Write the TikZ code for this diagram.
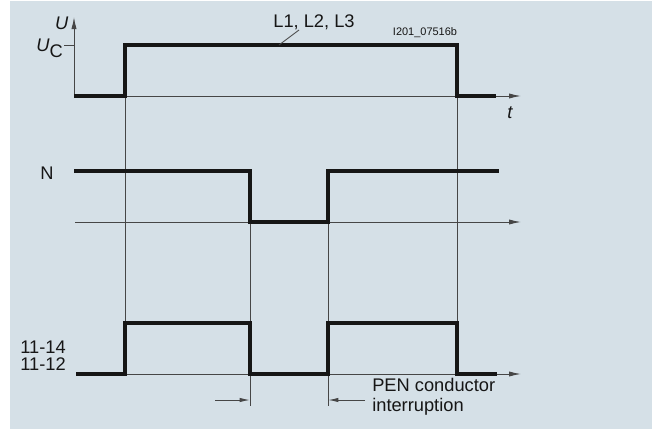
\documentclass[tikz,border=0pt]{standalone}
\usepackage{fontspec}
\setmainfont{Liberation Sans}
\usetikzlibrary{arrows.meta}
\definecolor{panelbg}{RGB}{213,224,231}
\definecolor{signal}{RGB}{22,22,22}
\definecolor{guide}{RGB}{70,70,70}

\begin{document}
\begin{tikzpicture}[x=1cm,y=1cm,line join=miter,>={Latex[length=3mm,width=1.3mm]}]
\tikzset{lab/.style={font=\fontsize{13}{14.5}\selectfont,text=signal,inner sep=0pt},
  tinylab/.style={font=\fontsize{7.8}{9}\selectfont,text=signal,inner sep=0pt},
  sig/.style={signal,line width=2.2pt},
  axis/.style={guide,line width=0.7pt},
  guideline/.style={guide,line width=0.6pt},
  dimarrow/.style={guide,line width=0.7pt,-{Latex[length=2.6mm,width=1.1mm]}}}

\fill[white] (0,0) rectangle (16.3,10.725);
\fill[panelbg] (0.25,0) rectangle (16.3,10.7);

% guide lines
\draw[guideline] (3.125,9.6)--(3.125,1.375);
\draw[guideline] (11.425,9.6)--(11.425,1.375);
\draw[guideline] (6.25,6.45)--(6.25,0.575);
\draw[guideline] (8.2,6.45)--(8.2,0.575);

% L1, L2, L3
\draw[axis,->] (1.85,8.325)--(1.85,10.3);
\draw[axis,->] (1.85,8.325)--(13.025,8.325);
\draw[axis] (1.6,9.6)--(1.85,9.6);
\node[lab,font=\fontsize{13}{14.5}\selectfont\itshape] (uaxis) at (1.54,10.15) {U};
\node[lab,anchor=east] (uc) at (1.58,9.52) {\textit{U}\raisebox{-0.55ex}{C}};
\node[lab,font=\fontsize{13}{14.5}\selectfont\itshape] (taxis) at (12.75,7.9) {t};
\draw[sig] (1.85,8.325)--(3.125,8.325)--(3.125,9.6)--(11.425,9.6)--(11.425,8.325)--(12.4,8.325);
\node[lab] (lines) at (7.85,10.175) {L1, L2, L3};
\draw[guideline] (6.975,9.6)--(7.475,9.975);
\node[tinylab] (ident) at (10.625,9.9) {I201\_07516b};

% N
\draw[axis,->] (1.875,5.175)--(13.025,5.175);
\node[lab] (nlab) at (1.175,6.4) {N};
\draw[sig] (1.85,6.45)--(6.25,6.45)--(6.25,5.175)--(8.2,5.175)--(8.2,6.45)--(12.475,6.45);

% 11-14 / 11-12
\draw[axis,->] (1.9,1.375)--(13.025,1.375);
\node[lab,anchor=base east] (no) at (1.65,1.9) {11-14};
\node[lab,anchor=base east] (nc) at (1.65,1.475) {11-12};
\draw[sig] (1.9,1.375)--(3.125,1.375)--(3.125,2.65)--(6.25,2.65)--(6.25,1.375)--(8.2,1.375)--(8.2,2.65)--(11.425,2.65)--(11.425,1.375)--(12.425,1.375);

% interruption
\coordinate (fallN) at (6.25,0.725);
\coordinate (riseN) at (8.2,0.725);
\draw[dimarrow] (5.375,0.725)--(fallN);
\draw[dimarrow] (9.125,0.725)--(riseN);
\node[lab,anchor=west,align=left,font=\fontsize{13}{14.2}\selectfont] (pen) at (9.3,0.8) {PEN conductor\\interruption};
\end{tikzpicture}
\end{document}
